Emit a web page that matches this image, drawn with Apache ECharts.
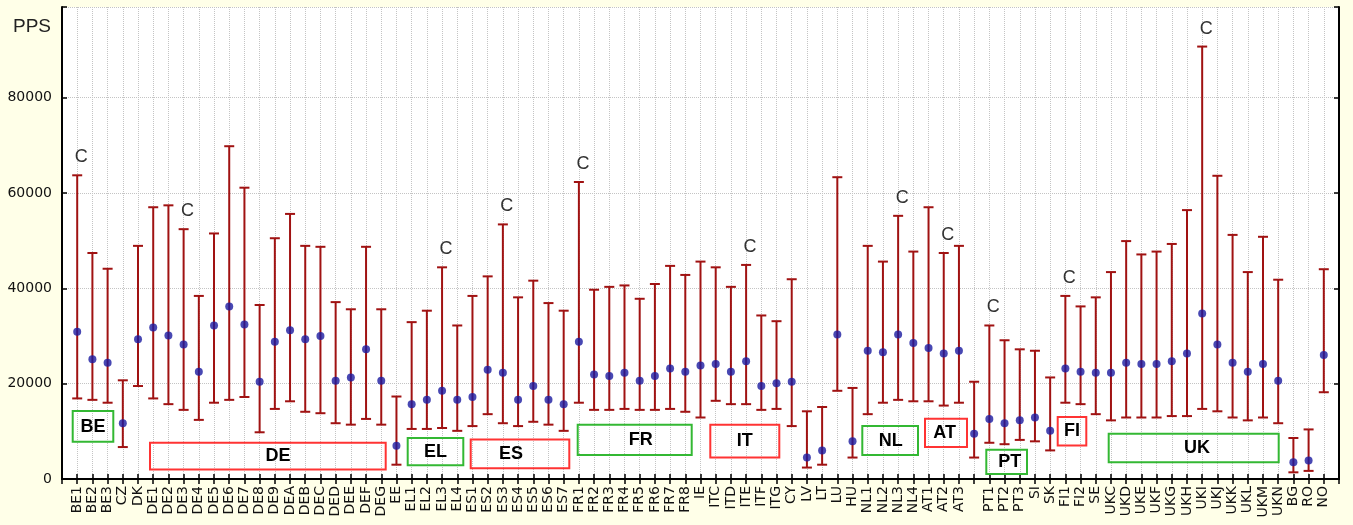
<!DOCTYPE html>
<html>
<head>
<meta charset="utf-8">
<title>PPS by region</title>
<script src="https://cdn.jsdelivr.net/npm/echarts@6/dist/echarts.min.js"></script>
<style>
  html, body { margin: 0; padding: 0; background: #FFFFE8; }
  #chart { width: 1353px; height: 525px; }
</style>
</head>
<body>
<div id="chart"></div>
<script>
// NUTS regions along the horizontal axis (one region carries no code label)
const regions = [
  'BE1','BE2','BE3','CZ','DK',
  'DE1','DE2','DE3','DE4','DE5','DE6','DE7','DE8','DE9','DEA','DEB','DEC','DED','DEE','DEF','DEG',
  'EE','EL1','EL2','EL3','EL4',
  'ES1','ES2','ES3','ES4','ES5','ES6','ES7',
  'FR1','FR2','FR3','FR4','FR5','FR6','FR7','FR8',
  'IE','ITC','ITD','ITE','ITF','ITG','CY','LV','LT','LU','HU',
  'NL1','NL2','NL3','NL4','AT1','AT2','AT3','',
  'PT1','PT2','PT3','SI','SK','FI1','FI2','SE',
  'UKC','UKD','UKE','UKF','UKG','UKH','UKI','UKJ','UKK','UKL','UKM','UKN',
  'BG','RO','NO'
];

// upper end of each range (PPS)
const maxValues = [
  63700, 47400, 44100, 20700, 48900,
  57000, 57400, 52400, 38400, 51500, 69800, 61100, 36500, 50500, 55600, 48900, 48700, 37100, 35600, 48700, 35600,
  17300, 32900, 35300, 44400, 32200,
  38400, 42500, 53400, 38100, 41600, 36900, 35300,
  62300, 39700, 40300, 40600, 37800, 40900, 44700, 42800,
  45600, 44400, 40300, 44900, 34300, 33100, 41900, 14200, 15100, 63300, 19100,
  48900, 45600, 55200, 47700, 57000, 47400, 48900, 20400,
  32200, 29100, 27200, 26900, 21300, 38400, 36200, 38100,
  43400, 49900, 47100, 47700, 49300, 56400, 90700, 63600, 51200, 43400, 50800, 41800,
  8600, 10400, 44000
];

// mean of each range (PPS)
const meanValues = [
  30900, 25100, 24400, 11700, 29300,
  31800, 30100, 28200, 22500, 32200, 36200, 32400, 20400, 28800, 31200, 29300, 30000, 20600, 21300, 27200, 20600,
  7000, 15700, 16600, 18500, 16600,
  17200, 22900, 22300, 16600, 19500, 16600, 15700,
  28800, 21900, 21600, 22300, 20600, 21600, 23200, 22500,
  23800, 24100, 22500, 24700, 19500, 20100, 20400, 4500, 6000, 30300, 7900,
  26900, 26600, 30300, 28500, 27500, 26300, 26900, 9500,
  12600, 11700, 12300, 12900, 10100, 23200, 22500, 22300,
  22300, 24400, 24100, 24100, 24700, 26300, 34700, 28200, 24400, 22500, 24100, 20600,
  3500, 3900, 26000
];

// lower end of each range (PPS)
const minValues = [
  16900, 16600, 16000, 6700, 19500,
  16900, 15700, 14500, 12400, 16000, 16600, 17200, 9800, 14700, 16300, 14100, 13800, 11700, 11400, 12600, 11400,
  3000, 10500, 10500, 10700, 10100,
  11100, 13600, 11700, 11100, 12000, 11400, 10100,
  16000, 14500, 14500, 14700, 14500, 14500, 14700, 14100,
  12900, 16400, 15700, 15700, 14500, 14700, 11100, 2400, 3000, 18500, 4500,
  13600, 16000, 16600, 16300, 16300, 15400, 16000, 4500,
  7600, 7300, 8200, 7900, 6000, 16000, 15700, 13600,
  12300, 12900, 12900, 12900, 13200, 13200, 14700, 14200, 12900, 12300, 12900, 11700,
  1400, 1700, 18200
];

// regions marked with "C" above their range
const capitalRegions = ['BE1','DE3','EL3','ES3','FR1','ITE','NL3','AT2','PT1','FI1','UKI'];

// country group labels drawn as framed captions
const groupNames = ['BE','DE','EL','ES','FR','IT','NL','AT','PT','FI','UK'];

// y axis ticks
const yTickStep = 20000;
const yTop = 99000;

// axis categories with an empty slot at both ends
const axisCategories = [''].concat(regions, ['']);

const rangeData = regions.map((r, i) => [i + 1, minValues[i], maxValues[i]]);
const meanData = regions.map((r, i) => [i + 1, meanValues[i]]);

const GREEN = '#33B833';
const RED = '#FF3333';
// frame rectangles and caption centres, in pixels
const groupFrames = {
  BE: { box: [72.7, 411, 40.6, 30.7], text: [93, 427], color: GREEN },
  DE: { box: [150, 442.8, 235.7, 26.8], text: [278, 456.5], color: RED },
  EL: { box: [407.7, 438.1, 55.6, 27.1], text: [435.5, 452], color: GREEN },
  ES: { box: [470.7, 439.4, 98.6, 28.8], text: [511, 454], color: RED },
  FR: { box: [577.7, 424.7, 114, 30.2], text: [640.7, 440], color: GREEN },
  IT: { box: [710.3, 424.7, 69, 32.8], text: [744.7, 441.5], color: RED },
  NL: { box: [862.3, 426, 55.7, 28.9], text: [890.7, 441], color: GREEN },
  AT: { box: [925, 418.7, 42, 28.4], text: [944.7, 433.5], color: RED },
  PT: { box: [986.3, 449.8, 40.7, 24.2], text: [1009.8, 462.5], color: GREEN },
  FI: { box: [1057.7, 417, 28.6, 28.4], text: [1072, 431.5], color: RED },
  UK: { box: [1108.7, 433.8, 170, 28.4], text: [1197, 448.5], color: GREEN }
};

const graphics = [{
  type: 'text',
  left: 13, top: 17,
  style: { text: 'PPS', font: '19px "Liberation Sans", Arial, sans-serif', fill: '#222' },
  z: 10
}];
groupNames.forEach(name => {
  const g = groupFrames[name];
  graphics.push({
    type: 'rect',
    shape: { x: g.box[0], y: g.box[1], width: g.box[2], height: g.box[3] },
    style: { fill: 'rgba(0,0,0,0)', stroke: g.color, lineWidth: 2 },
    z: 10
  });
  graphics.push({
    type: 'text',
    x: g.text[0], y: g.text[1],
    style: {
      text: name, align: 'center', verticalAlign: 'middle',
      font: 'bold 18px "Liberation Sans", Arial, sans-serif', fill: '#000'
    },
    z: 10
  });
});

const BAR_COLOR = '#A01212';
const labelFont = '"DejaVu Sans", Verdana, sans-serif';

function renderRange(params, api) {
  const x = api.value(0);
  const top = api.coord([x, api.value(2)]);
  const bottom = api.coord([x, api.value(1)]);
  const half = 5;
  const children = [
    { type: 'line', shape: { x1: top[0], y1: top[1], x2: bottom[0], y2: bottom[1] },
      style: { stroke: BAR_COLOR, lineWidth: 2 } },
    { type: 'line', shape: { x1: top[0] - half, y1: top[1], x2: top[0] + half, y2: top[1] },
      style: { stroke: BAR_COLOR, lineWidth: 2 } },
    { type: 'line', shape: { x1: bottom[0] - half, y1: bottom[1], x2: bottom[0] + half, y2: bottom[1] },
      style: { stroke: BAR_COLOR, lineWidth: 2 } }
  ];
  if (capitalRegions.indexOf(regions[params.dataIndex]) >= 0) {
    children.push({
      type: 'text',
      style: {
        text: 'C', x: top[0] + 4, y: top[1] - 9,
        align: 'center', verticalAlign: 'bottom',
        font: '18px "Liberation Sans", Arial, sans-serif', fill: '#333'
      }
    });
  }
  return { type: 'group', children: children };
}

const chart = echarts.init(document.getElementById('chart'), null, { renderer: 'canvas' });
chart.setOption({
  animation: false,
  backgroundColor: '#FFFFE8',
  grid: {
    left: 62, right: 14, top: 7, bottom: 46,
    show: true, backgroundColor: '#FFFFFF', borderWidth: 0
  },
  xAxis: [{
    type: 'category',
    data: axisCategories,
    boundaryGap: false,
    position: 'bottom',
    axisLine: { lineStyle: { color: '#000', width: 2 } },
    axisTick: { inside: true, length: 5, interval: 0, lineStyle: { color: '#000', width: 1.5 } },
    axisLabel: { interval: 0, rotate: 90, margin: 7, fontSize: 14, fontFamily: labelFont, color: '#111' },
    splitLine: { show: true, interval: 0, lineStyle: { color: '#C4C4C4', type: 'dotted', width: 1 } }
  }, {
    type: 'category',
    data: axisCategories,
    boundaryGap: false,
    position: 'top',
    axisLine: { lineStyle: { color: '#000', width: 2 } },
    axisTick: { inside: true, length: 5, interval: 0, lineStyle: { color: '#000', width: 1.5 } },
    axisLabel: { show: false },
    splitLine: { show: false }
  }],
  yAxis: [{
    type: 'value',
    min: 0, max: yTop, interval: yTickStep,
    position: 'left',
    axisLine: { show: true, lineStyle: { color: '#000', width: 2 } },
    axisTick: { show: true, inside: true, length: 5, lineStyle: { color: '#000', width: 1.5 } },
    axisLabel: {
      margin: 10, fontSize: 14, fontFamily: labelFont, color: '#111',
      formatter: v => (v % yTickStep === 0 ? String(v) : '')
    },
    splitLine: { show: true, lineStyle: { color: '#C4C4C4', type: 'dotted', width: 1 } }
  }, {
    type: 'value',
    min: 0, max: yTop, interval: yTickStep,
    position: 'right',
    axisLine: { show: true, lineStyle: { color: '#000', width: 2 } },
    axisTick: { show: true, inside: true, length: 5, lineStyle: { color: '#000', width: 1.5 } },
    axisLabel: { show: false },
    splitLine: { show: false }
  }],
  graphic: graphics,
  series: [{
    type: 'custom',
    name: 'range',
    renderItem: renderRange,
    data: rangeData,
    encode: { x: 0, y: [1, 2] },
    z: 3
  }, {
    type: 'scatter',
    name: 'mean',
    data: meanData,
    symbol: 'circle',
    symbolSize: 8,
    itemStyle: { color: '#1A1AA0' },
    z: 5
  }]
});
</script>
</body>
</html>
